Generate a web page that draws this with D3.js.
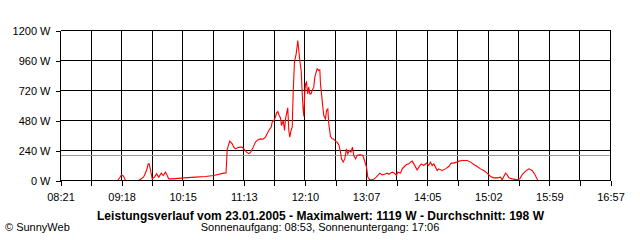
<!DOCTYPE html>
<html>
<head>
<meta charset="utf-8">
<script src="https://cdn.jsdelivr.net/npm/d3@7/dist/d3.min.js"></script>
<style>
  html, body { margin: 0; padding: 0; background: #fff; }
  svg { display: block; }
  text { font-family: "Liberation Sans", Arial, sans-serif; font-size: 11px; fill: #000; }
</style>
</head>
<body>
<svg id="chart" width="640" height="240"></svg>
<script>
// ---- data (minutes since midnight, watts) ----
const xTickLabels = ["08:21","09:18","10:15","11:13","12:10","13:07","14:05","15:02","15:59","16:57"];
const yTickValues = [0, 240, 480, 720, 960, 1200];
const yTickLabels = ["0 W", "240 W", "480 W", "720 W", "960 W", "1200 W"];
const startMinute = 501;   // 08:21
const endMinute = 1017;    // 16:57
const averageW = 198;
const titleText = "Leistungsverlauf vom 23.01.2005 - Maximalwert: 1119 W - Durchschnitt: 198 W";
const subtitleText = "Sonnenaufgang: 08:53, Sonnenuntergang: 17:06";
const creditText = "\u00A9 SunnyWeb";

const times = [
  554.5, 556.4, 558.2, 560.1, 562.0, 574.2, 576.1, 578.9, 581.7, 583.3, 584.2, 586.1, 587.0, 589.2,
  591.1, 593.2, 595.5, 597.4, 599.5, 601.1, 602.6, 605.8, 616.7, 627.7, 637.0, 644.8, 654.2, 656.3,
  657.4, 659.8, 662.1, 663.6, 665.2, 667.1, 669.2, 671.3, 673.0, 675.5, 677.7, 679.3, 681.8, 683.9,
  686.1, 688.6, 691.0, 693.3, 694.9, 696.4, 698.7, 699.6, 701.1, 702.7, 703.6, 704.9, 706.2, 707.4,
  708.3, 709.9, 711.2, 712.1, 714.2, 715.2, 716.1, 717.3, 718.4, 719.3, 720.5, 722.1, 723.1, 723.6,
  724.6, 725.5, 726.8, 727.8, 728.7, 729.3, 730.2, 730.9, 731.8, 732.4, 733.0, 733.9, 734.9, 736.0,
  737.1, 738.6, 739.6, 740.9, 741.8, 743.3, 744.3, 744.9, 745.9, 746.8, 748.0, 749.6, 750.6, 751.8,
  752.7, 754.3, 755.9, 757.4, 759.0, 760.6, 762.3, 763.7, 764.6, 766.2, 767.7, 769.3, 770.5, 772.1,
  773.5, 774.9, 776.2, 777.8, 779.4, 780.6, 782.5, 784.6, 786.2, 788.1, 789.3, 791.2, 793.7, 796.5,
  798.7, 800.6, 802.8, 805.0, 807.5, 809.0, 812.2, 814.4, 816.2, 817.4, 820.0, 821.6, 823.7, 825.6,
  827.8, 829.4, 831.0, 832.5, 834.1, 835.6, 837.2, 839.4, 841.8, 844.4, 846.3, 848.1, 849.7, 851.2,
  852.8, 854.4, 855.9, 857.5, 859.1, 862.2, 865.3, 867.5, 870.0, 872.5, 874.7, 877.9, 882.6, 885.7,
  888.8, 891.9, 895.0, 898.1, 901.3, 904.4, 907.5, 910.7, 913.8, 915.4, 916.9, 918.5, 920.1, 921.6,
  924.8, 929.5, 931.9, 934.2, 937.3, 940.4, 943.5, 945.7, 947.6, 948.8
];
const watts = [
  0, 20, 45, 35, 0, 0, 10, 27, 80, 133, 133, 56, 13, 27,
  53, 27, 59, 40, 67, 40, 13, 13, 21, 27, 32, 40, 59, 60,
  250, 315, 293, 267, 253, 262, 267, 267, 253, 227, 215, 225, 267, 307,
  325, 333, 330, 347, 373, 400, 427, 467, 480, 507, 539, 552, 520, 500,
  440, 480, 400, 493, 581, 400, 347, 400, 427, 707, 947, 1013, 1080, 1119,
  1040, 960, 880, 693, 560, 512, 707, 773, 787, 733, 693, 747, 693, 693,
  720, 747, 827, 867, 893, 880, 885, 773, 693, 613, 520, 493, 560, 573,
  453, 352, 333, 330, 315, 307, 280, 227, 173, 147, 173, 253, 213, 240,
  227, 267, 200, 173, 200, 205, 205, 200, 160, 107, 27, 5, 5, 21,
  40, 59, 45, 50, 59, 50, 67, 59, 40, 67, 59, 93, 112, 128,
  133, 147, 155, 133, 107, 85, 107, 133, 120, 139, 120, 147, 120, 133,
  107, 80, 93, 85, 80, 93, 112, 139, 139, 147, 155, 160, 160, 147,
  128, 112, 93, 80, 59, 32, 21, 21, 27, 5, 32, 59, 45, 21,
  13, 5, 13, 48, 75, 93, 80, 53, 21, 0
];

// ---- layout ----
const svg = d3.select("#chart");
const plotL = 60, plotR = 610, plotT = 30, plotB = 180;

const x = d3.scaleLinear().domain([startMinute, endMinute]).range([plotL, plotR]);
const y = d3.scaleLinear().domain([0, 1200]).range([plotB, plotT]);

const gridTicks = d3.range(19).map(i => startMinute + i * (endMinute - startMinute) / 18);

// grid
const grid = svg.append("g").attr("shape-rendering", "crispEdges").attr("stroke", "#000").attr("stroke-width", 1);
grid.selectAll("line.v").data(gridTicks).join("line")
  .attr("class", "v")
  .attr("x1", d => Math.round(x(d)) + 0.5).attr("x2", d => Math.round(x(d)) + 0.5)
  .attr("y1", plotT + 0.5).attr("y2", plotB + 0.5);
grid.selectAll("line.h").data(yTickValues).join("line")
  .attr("class", "h")
  .attr("x1", plotL + 0.5).attr("x2", plotR + 0.5)
  .attr("y1", d => Math.round(y(d)) + 0.5).attr("y2", d => Math.round(y(d)) + 0.5);

// average line
svg.append("line")
  .attr("shape-rendering", "crispEdges")
  .attr("stroke", "#999").attr("stroke-width", 1)
  .attr("x1", plotL + 1).attr("x2", plotR)
  .attr("y1", Math.round(y(averageW)) + 0.5).attr("y2", Math.round(y(averageW)) + 0.5);

// power line
const pts = times.map((t, i) => [t, watts[i]]);
svg.append("path")
  .datum(pts)
  .attr("fill", "none")
  .attr("stroke", "#ff0000")
  .attr("stroke-width", 1.1)
  .attr("d", d3.line().x(d => x(d[0]) + 0.5).y(d => y(d[1]) + 0.5));

// bottom axis line redrawn over the curve
svg.append("line")
  .attr("shape-rendering", "crispEdges")
  .attr("stroke", "#000")
  .attr("x1", plotL).attr("x2", plotR + 1)
  .attr("y1", plotB + 0.5).attr("y2", plotB + 0.5);

// x axis
const xAxis = d3.axisBottom(x)
  .tickValues(gridTicks)
  .tickSize(5)
  .tickSizeOuter(0)
  .tickFormat((d, i) => i % 2 === 0 ? xTickLabels[i / 2] : "");
const gx = svg.append("g").attr("transform", `translate(0.5,${plotB + 0.5})`).call(xAxis);
gx.select(".domain").remove();
gx.selectAll(".tick line").attr("stroke", "#000").attr("shape-rendering", "crispEdges");
gx.selectAll(".tick text")
  .attr("y", 20).attr("dy", 0)
  .style("font-family", '"Liberation Sans", Arial, sans-serif').style("font-size", "11px").attr("fill", "#000");
gx.attr("font-family", null).attr("font-size", null);

// y axis
const yAxis = d3.axisLeft(y)
  .tickValues(yTickValues)
  .tickSize(5)
  .tickSizeOuter(0)
  .tickPadding(5)
  .tickFormat((d, i) => yTickLabels[i]);
const gy = svg.append("g").attr("transform", `translate(${plotL + 0.5},0.5)`).call(yAxis);
gy.select(".domain").remove();
gy.selectAll(".tick line").attr("stroke", "#000").attr("shape-rendering", "crispEdges");
gy.selectAll(".tick text")
  .style("font-family", '"Liberation Sans", Arial, sans-serif').style("font-size", "11px").attr("fill", "#000");
gy.attr("font-family", null).attr("font-size", null);

// texts
svg.append("text")
  .attr("x", 320.5).attr("y", 219.5)
  .attr("text-anchor", "middle")
  .attr("textLength", 447)
  .attr("lengthAdjust", "spacing")
  .style("font-weight", "bold")
  .style("font-size", "12px")
  .text(titleText);
svg.append("text")
  .attr("x", 320).attr("y", 231)
  .attr("text-anchor", "middle")
  .text(subtitleText);
svg.append("text")
  .attr("x", 5).attr("y", 231)
  .text(creditText);
</script>
</body>
</html>
